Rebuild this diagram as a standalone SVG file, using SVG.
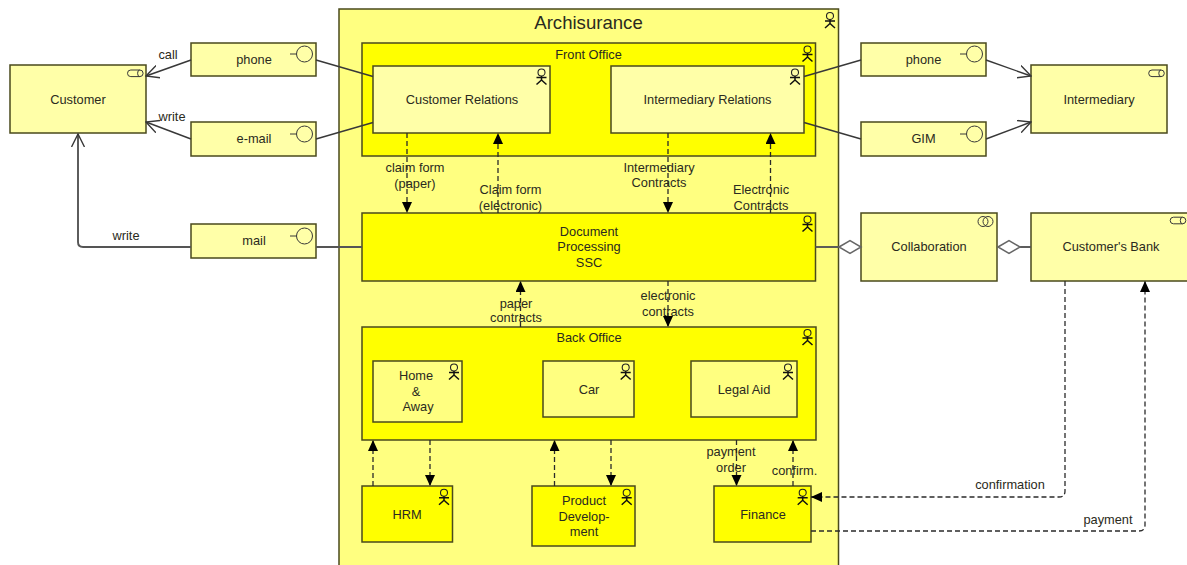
<svg xmlns="http://www.w3.org/2000/svg" width="1187" height="565" viewBox="0 0 1187 565">
<style>
text{font-family:"Liberation Sans",Arial,sans-serif;font-size:12.8px;fill:#2a2a20;text-anchor:middle}
.box{stroke:#4a4a1c;stroke-width:1.5}
.l{fill:#ffffa8}.m{fill:#ffff80}.y{fill:#ffff00}
.c{fill:none;stroke:#383838;stroke-width:1.4}
.t{fill:none;stroke:#555;stroke-width:1.9}
.d{fill:none;stroke:#2a2a2a;stroke-width:1.3;stroke-dasharray:5 3}
.ic{fill:none;stroke:#222;stroke-width:1.1}
.a{fill:none;stroke:#111;stroke-width:1.5}
.itf{fill:none;stroke:#383838;stroke-width:1}
.dia{fill:#fff;stroke:#666;stroke-width:1.5}
</style>
<defs>
<symbol id="actor" overflow="visible"><circle cx="0" cy="-5" r="3.500" class="ic"/><path d="M0-1.500V2.500M-5 0H5M0 2.500L-5 7M0 2.500L5 7" class="a"/></symbol>
<symbol id="iface" overflow="visible"><circle cx="0" cy="0" r="8" class="itf"/><path d="M-8 0H-14.500" class="itf"/></symbol>
<symbol id="role" overflow="visible"><path d="M-4.500-3.300H4.500A3.300 3.300 0 0 1 4.500 3.300H-4.500A3.300 3.300 0 0 1-4.500-3.300ZM4.500-3.300A2.200 3.300 0 0 0 4.500 3.300" class="itf"/></symbol>
<marker id="tri" markerWidth="12" markerHeight="11" refX="11" refY="5" orient="auto" markerUnits="userSpaceOnUse"><path d="M0 0L11 5L0 10Z" fill="#000"/></marker>
<marker id="open" markerWidth="14" markerHeight="14" refX="13" refY="7" orient="auto" markerUnits="userSpaceOnUse"><path d="M0 0.500L13 7L0 13.500" fill="none" stroke="#383838" stroke-width="1.400"/></marker>
</defs>

<g id="n-archisurance"><rect class="box m" x="339" y="9" width="499.500" height="560"/><text x="588.500" y="29" style="font-size:18.600px">Archisurance</text><use href="#actor" x="830" y="21"/></g>
<g id="n-front-office"><rect class="box y" x="362" y="43" width="453.500" height="113"/><text x="588.500" y="59">Front Office</text><use href="#actor" x="807.500" y="54.500"/></g>
<g id="n-customer-relations"><rect class="box l" x="373" y="66" width="177" height="67"/><text x="462" y="104">Customer Relations</text><use href="#actor" x="541.500" y="77.500"/></g>
<g id="n-intermediary-relations"><rect class="box l" x="611" y="66" width="193" height="67"/><text x="707.500" y="104">Intermediary Relations</text><use href="#actor" x="795" y="77.500"/></g>
<g id="n-dps"><rect class="box y" x="362" y="213" width="453.500" height="68"/><text x="589" y="236">Document</text><text x="589" y="251">Processing</text><text x="589" y="267">SSC</text><use href="#actor" x="807.500" y="224.500"/></g>
<g id="n-back-office"><rect class="box y" x="362" y="327" width="454" height="113"/><text x="589" y="342">Back Office</text><use href="#actor" x="807.500" y="338"/></g>
<g id="n-home"><rect class="box m" x="373" y="361" width="89" height="61"/><text x="416" y="380">Home</text><text x="416" y="396">&amp;</text><text x="418" y="411">Away</text><use href="#actor" x="454" y="372.500"/></g>
<g id="n-car"><rect class="box m" x="543" y="361" width="91" height="56"/><text x="589" y="394">Car</text><use href="#actor" x="625.700" y="372.500"/></g>
<g id="n-legal"><rect class="box m" x="691" y="361" width="106" height="56"/><text x="744" y="394">Legal Aid</text><use href="#actor" x="788" y="372.500"/></g>
<g id="n-hrm"><rect class="box y" x="362" y="486" width="90.500" height="56"/><text x="407" y="519">HRM</text><use href="#actor" x="444" y="497.700"/></g>
<g id="n-product"><rect class="box y" x="532" y="486" width="103" height="60"/><text x="584" y="505">Product</text><text x="584" y="521">Develop-</text><text x="584" y="536">ment</text><use href="#actor" x="626.700" y="497.700"/></g>
<g id="n-finance"><rect class="box y" x="714" y="486" width="97" height="56"/><text x="763" y="519">Finance</text><use href="#actor" x="802.700" y="497.700"/></g>
<g id="n-customer"><rect class="box l" x="10" y="65" width="136" height="68"/><text x="78" y="104">Customer</text><use href="#role" x="135.300" y="73.300"/></g>
<g id="n-phone-l"><rect class="box l" x="191" y="43" width="125" height="33"/><text x="254" y="64">phone</text><use href="#iface" x="304.500" y="54"/></g>
<g id="n-email"><rect class="box l" x="191" y="122" width="125" height="34"/><text x="254" y="143">e-mail</text><use href="#iface" x="304.500" y="134"/></g>
<g id="n-mail"><rect class="box l" x="191" y="224" width="125" height="34"/><text x="254" y="245">mail</text><use href="#iface" x="304.500" y="236"/></g>
<g id="n-phone-r"><rect class="box l" x="861" y="43" width="125" height="33"/><text x="923.500" y="64">phone</text><use href="#iface" x="974.500" y="54"/></g>
<g id="n-gim"><rect class="box l" x="861" y="122" width="125" height="34"/><text x="923.500" y="143">GIM</text><use href="#iface" x="974.500" y="134"/></g>
<g id="n-intermediary"><rect class="box l" x="1031" y="65" width="136" height="68"/><text x="1099" y="104">Intermediary</text><use href="#role" x="1156.500" y="73.300"/></g>
<g id="n-collaboration"><rect class="box l" x="861" y="213" width="136" height="68"/><text x="929" y="251">Collaboration</text><g class="itf"><circle cx="983" cy="221.500" r="5"/><circle cx="988" cy="221.500" r="5"/></g></g>
<g id="n-bank"><rect class="box l" x="1031" y="213" width="160" height="68"/><text x="1111" y="251">Customer's Bank</text><use href="#role" x="1178" y="220.500"/></g>

<g id="connectors">
<path class="c" d="M191 60L146 76" marker-end="url(#open)"/>
<path class="c" d="M191 139L146 122" marker-end="url(#open)"/>
<path class="t" d="M191 247H83Q78 247 78 242V134" marker-end="url(#open)"/>
<path class="c" d="M316 60L373 76.500"/>
<path class="c" d="M316 139L373 122.500"/>
<path class="t" d="M316 247H362"/>
<path class="c" d="M804 76.500L861 60"/>
<path class="c" d="M804 122.500L861 139"/>
<path class="c" d="M986 60L1031 76" marker-end="url(#open)"/>
<path class="c" d="M986 139L1031 122" marker-end="url(#open)"/>
<path class="t" d="M815.500 247H839"/>
<path class="dia" d="M839 247L850 240.500L861 247L850 253.500Z"/>
<path class="t" d="M1020 247H1031"/>
<path class="dia" d="M998 247L1009 240.500L1020 247L1009 253.500Z"/>
<path class="d" d="M407 133V213" marker-end="url(#tri)"/>
<path class="d" d="M498 213V133" marker-end="url(#tri)"/>
<path class="d" d="M668 133V213" marker-end="url(#tri)"/>
<path class="d" d="M770.500 213V133" marker-end="url(#tri)"/>
<path class="d" d="M520.500 327V281" marker-end="url(#tri)"/>
<path class="d" d="M668 281V327" marker-end="url(#tri)"/>
<path class="d" d="M373 486V440" marker-end="url(#tri)"/>
<path class="d" d="M430 440V486" marker-end="url(#tri)"/>
<path class="d" d="M554.500 486V440" marker-end="url(#tri)"/>
<path class="d" d="M611 440V486" marker-end="url(#tri)"/>
<path class="d" d="M736.500 440V486" marker-end="url(#tri)"/>
<path class="d" d="M793 486V440" marker-end="url(#tri)"/>
<path class="d" d="M1065 281V491Q1065 497 1059 497H811" marker-end="url(#tri)"/>
<path class="d" d="M811 531H1139Q1145 531 1145 525V281" marker-end="url(#tri)"/>
<text x="168" y="59">call</text>
<text x="172" y="121">write</text>
<text x="126" y="240">write</text>
<text x="415" y="172">claim form</text><text x="415" y="188">(paper)</text>
<text x="510.500" y="194">Claim form</text><text x="510.500" y="210">(electronic)</text>
<text x="659" y="172">Intermediary</text><text x="659" y="187">Contracts</text>
<text x="761" y="194">Electronic</text><text x="761" y="210">Contracts</text>
<text x="516" y="308">paper</text><text x="516" y="322">contracts</text>
<text x="668" y="300">electronic</text><text x="668" y="316">contracts</text>
<text x="731" y="456">payment</text><text x="731" y="472">order</text>
<text x="794.500" y="475">confirm.</text>
<text x="1010" y="489">confirmation</text>
<text x="1108" y="524">payment</text>
</g>
</svg>
